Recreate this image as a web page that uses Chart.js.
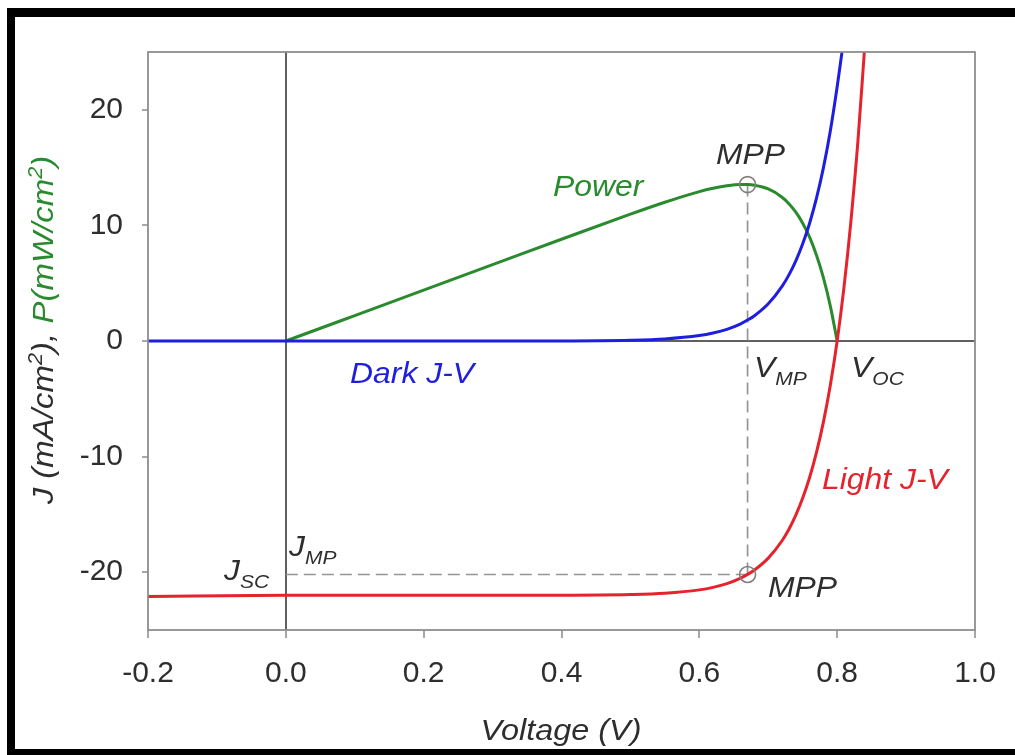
<!DOCTYPE html>
<html>
<head>
<meta charset="utf-8">
<script src="https://cdn.jsdelivr.net/npm/chart.js@4.4.0/dist/chart.umd.min.js"></script>
<style>
  html, body { margin: 0; padding: 0; background: #ffffff; }
  #wrap { width: 1015px; height: 755px; position: relative; }
  canvas { display: block; }
</style>
</head>
<body>
<div id="wrap"><canvas id="c" width="1015" height="755"></canvas></div>
<script>
// ---- data ----
const xTicks = [-0.2, 0.0, 0.2, 0.4, 0.6, 0.8, 1.0];
const yTicks = [-20, -10, 0, 10, 20];

// Dark J-V (mA/cm2)
const darkV = [-0.2, 0.0, 0.2, 0.4, 0.5, 0.55, 0.6, 0.62, 0.64, 0.66, 0.67, 0.68, 0.70, 0.72, 0.73, 0.74, 0.75, 0.76, 0.77, 0.78, 0.79, 0.80, 0.807];
const darkJ = [0, 0, 0, 0.01, 0.07, 0.18, 0.47, 0.69, 1.01, 1.49, 1.81, 2.19, 3.22, 4.72, 5.72, 6.94, 8.41, 10.19, 12.36, 14.98, 18.15, 22.0, 25.0];

// Light J-V (mA/cm2)
const lightV = [-0.2, 0.0, 0.2, 0.4, 0.5, 0.55, 0.6, 0.62, 0.64, 0.66, 0.67, 0.68, 0.70, 0.72, 0.73, 0.74, 0.75, 0.76, 0.77, 0.78, 0.79, 0.80, 0.81, 0.82, 0.83, 0.84];
const lightJ = [-22.1, -22.0, -22.0, -21.99, -21.93, -21.82, -21.53, -21.31, -20.99, -20.51, -20.19, -19.81, -18.78, -17.28, -16.28, -15.06, -13.59, -11.81, -9.64, -7.02, -3.85, 0, 4.7, 10.4, 17.2, 25.5];

// Power (mW/cm2)
const powerV = [0, 0.1, 0.2, 0.3, 0.4, 0.5, 0.55, 0.6, 0.62, 0.64, 0.66, 0.67, 0.68, 0.70, 0.72, 0.73, 0.74, 0.75, 0.76, 0.77, 0.78, 0.79, 0.80];
const powerP = [0, 2.2, 4.4, 6.6, 8.8, 10.97, 12.0, 12.92, 13.21, 13.43, 13.54, 13.53, 13.47, 13.15, 12.44, 11.88, 11.14, 10.19, 8.98, 7.42, 5.48, 3.04, 0];

// Maximum power point
const mppV = [0.67, 0.67];
const mppY = [13.53, -20.2];
const jmpGuideV = [0.0, 0.67];
const jmpGuideJ = [-20.2, -20.2];

const pts = (xs, ys) => xs.map((x, i) => ({ x: x, y: ys[i] }));

const FONT = "'Liberation Sans', Arial, sans-serif";
const TXT = '#2e2e2e';
const BLUE = '#1e1ede';
const RED = '#e6222c';
const GREEN = '#2a8a2e';

const framePlugin = {
  id: 'frame',
  beforeDraw(chart) {
    const ctx = chart.ctx;
    ctx.save();
    ctx.fillStyle = '#ffffff';
    ctx.fillRect(0, 0, chart.width, chart.height);
    ctx.restore();
  },
  afterDatasetsDraw(chart) {
    const ctx = chart.ctx;
    const a = chart.chartArea;
    ctx.save();
    ctx.strokeStyle = '#8e8e8e';
    ctx.lineWidth = 1.8;
    ctx.strokeRect(a.left, a.top, a.right - a.left, a.bottom - a.top);
    ctx.restore();
  },
  afterDraw(chart) {
    const ctx = chart.ctx;
    ctx.save();
    // outer black border (right side cut off in the reference)
    ctx.fillStyle = '#000000';
    ctx.fillRect(7, 8, chart.width - 7, 9);
    ctx.fillRect(7, 8, 8, chart.height - 8);
    ctx.fillRect(7, 749, chart.width - 7, 6);

    const SX = 1.1;
    // text with subscript / superscript pieces, slightly widened like the reference
    function rich(x, y, parts, size) {
      ctx.save();
      ctx.translate(x, y);
      ctx.scale(SX, 1);
      let cx = 0;
      parts.forEach(p => {
        const s = p.sub || p.sup ? size * 0.66 : size;
        ctx.font = 'italic ' + s + 'px ' + FONT;
        ctx.fillStyle = p.color || TXT;
        const dy = p.sub ? size * 0.28 : (p.sup ? -size * 0.38 : 0);
        ctx.fillText(p.t, cx, dy);
        cx += ctx.measureText(p.t).width;
      });
      ctx.restore();
      return cx * SX;
    }
    function width(parts, size) {
      let w = 0;
      parts.forEach(p => {
        ctx.font = 'italic ' + (p.sub || p.sup ? size * 0.66 : size) + 'px ' + FONT;
        w += ctx.measureText(p.t).width;
      });
      return w * SX;
    }
    ctx.textBaseline = 'alphabetic';
    ctx.textAlign = 'left';
    const S = 29;
    rich(553, 196, [{ t: 'Power', color: GREEN }], S);
    rich(716, 164, [{ t: 'MPP' }], S);
    rich(350, 383, [{ t: 'Dark J-V', color: BLUE }], S);
    rich(754, 377, [{ t: 'V' }, { t: 'MP', sub: true }], S);
    rich(851, 377, [{ t: 'V' }, { t: 'OC', sub: true }], S);
    rich(822, 489, [{ t: 'Light J-V', color: RED }], S);
    rich(224, 580, [{ t: 'J' }, { t: 'SC', sub: true }], S);
    rich(289, 556, [{ t: 'J' }, { t: 'MP', sub: true }], S);
    rich(768, 597, [{ t: 'MPP' }], S);

    // x axis title
    const xt = [{ t: 'Voltage (V)' }];
    rich(561 - width(xt, 29.5) / 2, 740, xt, 29.5);

    // y axis title, rotated, two colours with superscripts
    ctx.translate(53, 330);
    ctx.rotate(-Math.PI / 2);
    const parts = [
      { t: 'J (mA/cm' }, { t: '2', sup: true }, { t: '), ' },
      { t: 'P(mW/cm', color: GREEN }, { t: '2', sup: true, color: GREEN }, { t: ')', color: GREEN }
    ];
    const YS = 30;
    rich(-width(parts, YS) / 2, 0, parts, YS);
    ctx.restore();
  }
};

const gridColor = (ctx) => (ctx.tick && ctx.tick.value === 0) ? '#606060' : 'rgba(0,0,0,0)';

new Chart(document.getElementById('c'), {
  type: 'scatter',
  data: {
    datasets: [
      { label: 'Vmp guide', data: pts(mppV, mppY), showLine: true, borderColor: '#959595', borderWidth: 1.7, borderDash: [12, 6], pointRadius: 0, order: 5 },
      { label: 'Jmp guide', data: pts(jmpGuideV, jmpGuideJ), showLine: true, borderColor: '#959595', borderWidth: 1.7, borderDash: [12, 6], pointRadius: 0, order: 5 },
      { label: 'Power', data: pts(powerV, powerP), showLine: true, borderColor: GREEN, borderWidth: 3, pointRadius: 0, cubicInterpolationMode: 'monotone', order: 4 },
      { label: 'Dark J-V', data: pts(darkV, darkJ), showLine: true, borderColor: BLUE, borderWidth: 3, pointRadius: 0, cubicInterpolationMode: 'monotone', order: 3 },
      { label: 'Light J-V', data: pts(lightV, lightJ), showLine: true, borderColor: RED, borderWidth: 3, pointRadius: 0, cubicInterpolationMode: 'monotone', order: 2 },
      { label: 'MPP', data: pts(mppV, mppY), showLine: false, borderColor: '#808080', backgroundColor: 'rgba(0,0,0,0)', borderWidth: 1.6, pointRadius: 8, pointStyle: 'circle', order: 1 }
    ]
  },
  options: {
    responsive: false,
    animation: false,
    events: [],
    layout: { padding: { top: 52, right: 40, left: 0, bottom: 0 } },
    plugins: { legend: { display: false }, tooltip: { enabled: false } },
    scales: {
      x: {
        type: 'linear', min: -0.2, max: 1.0,
        afterBuildTicks: (s) => { s.ticks = xTicks.map(v => ({ value: v })); },
        afterFit: (s) => { s.height = 125; },
        border: { display: false },
        grid: { drawOnChartArea: true, color: gridColor, lineWidth: 2, tickColor: '#8a8a8a', tickWidth: 1.5, tickLength: 8 },
        ticks: { font: { size: 30, family: FONT }, color: TXT, padding: 18, maxRotation: 0, autoSkip: false, callback: (v) => Number(v).toFixed(1) }
      },
      y: {
        type: 'linear', min: -25, max: 25,
        afterBuildTicks: (s) => { s.ticks = yTicks.map(v => ({ value: v })); },
        afterFit: (s) => { s.width = 148; },
        border: { display: false },
        grid: { drawOnChartArea: true, color: gridColor, lineWidth: 2, tickColor: '#8a8a8a', tickWidth: 1.5, tickLength: 6 },
        ticks: { font: { size: 30, family: FONT }, color: TXT, padding: 19, autoSkip: false, callback: (v) => String(v) }
      }
    }
  },
  plugins: [framePlugin]
});
</script>
</body>
</html>
